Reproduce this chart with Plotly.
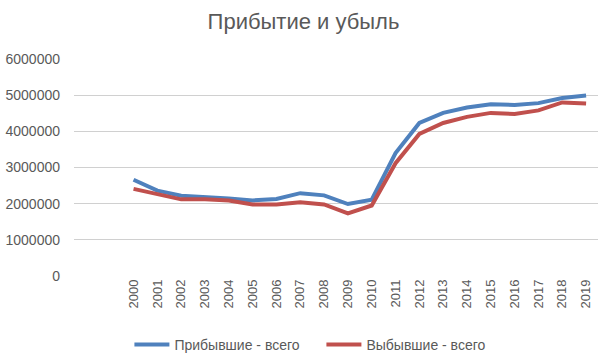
import plotly.graph_objects as go

years = list(range(2000, 2020))
arrived = [2660000, 2360000, 2220000, 2190000, 2140000, 2090000, 2130000, 2290000, 2230000, 1990000,
           2110000, 3400000, 4230000, 4510000, 4660000, 4750000, 4730000, 4780000, 4920000, 4990000]
departed = [2410000, 2260000, 2120000, 2120000, 2090000, 1980000, 1980000, 2040000, 1980000, 1730000,
            1950000, 3120000, 3930000, 4230000, 4400000, 4510000, 4480000, 4580000, 4800000, 4770000]
tick_labels = [str(y) for y in years]
y_ticks = [0, 1000000, 2000000, 3000000, 4000000, 5000000, 6000000]

font_family = "Liberation Sans, Arial, sans-serif"
gray = "#595959"

fig = go.Figure()
fig.add_trace(go.Scatter(x=years, y=arrived, mode="lines", name="Прибывшие - всего",
                         line=dict(color="#4F81BD", width=4)))
fig.add_trace(go.Scatter(x=years, y=departed, mode="lines", name="Выбывшие - всего",
                         line=dict(color="#C0504D", width=4)))

fig.update_layout(
    width=607, height=361,
    paper_bgcolor="white", plot_bgcolor="white",
    margin=dict(l=74, r=9, t=59, b=85, autoexpand=False),
    font=dict(family=font_family, color=gray, size=14),
    title=dict(text="Прибытие и убыль", x=0.5, xanchor="center", y=0.94, yanchor="middle",
               font=dict(size=22, color=gray, family=font_family)),
    showlegend=True,
    legend=dict(orientation="h", xref="container", x=0.2132, xanchor="left",
                yref="container", y=0.0, yanchor="bottom",
                font=dict(size=14, color=gray), tracegroupgap=0, itemwidth=35,
                entrywidth=142, entrywidthmode="pixels"),
    xaxis=dict(range=[1997.5, 2019.5], tickmode="array", tickvals=years, ticktext=tick_labels,
               tickangle=-90, showgrid=False, zeroline=False, showline=False, ticks="",
               automargin=False, tickfont=dict(size=13, color=gray)),
    yaxis=dict(range=[0, 6000000], tickmode="array", tickvals=y_ticks,
               ticktext=[str(v) for v in y_ticks], showgrid=True, gridcolor="#D0D0D0",
               gridwidth=1, zeroline=False, showline=False, ticks="", ticklabelstandoff=13,
               automargin=False, tickfont=dict(size=14, color=gray)),
)

fig.write_html("out.html", config={"displayModeBar": False},
               post_script="document.body.style.margin='0';document.body.style.padding='0';")
